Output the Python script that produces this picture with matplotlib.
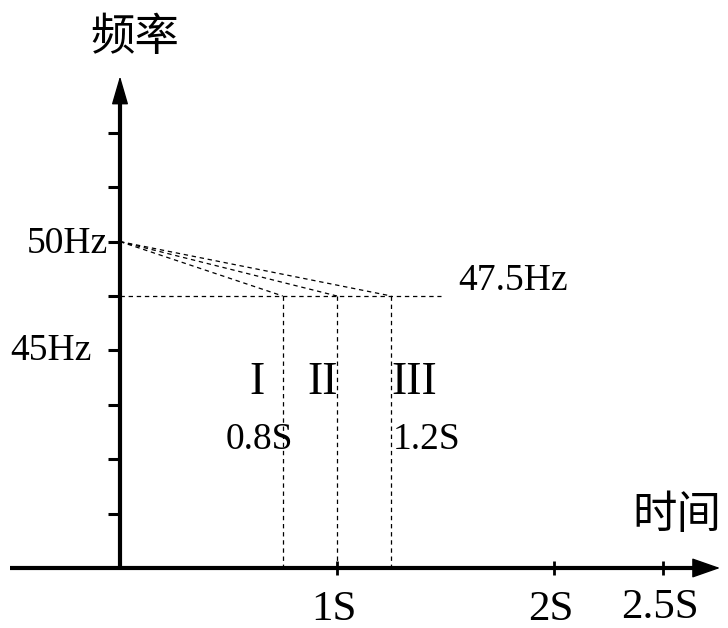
import matplotlib.pyplot as plt

plt.rcParams['font.family'] = ['Liberation Serif', 'Noto Sans CJK SC']

# chart values
f_origin = 35.0
f_nominal = 50.0
f_trip = 47.5
f_ticks = [37.5, 40, 42.5, 45, 47.5, 50, 52.5, 55]
f_ticklabels = ['50Hz', '45Hz']
f_ticklabel_vals = [50, 45]
t_ticks = [1, 2, 2.5]
t_ticklabels = ['1S', '2S', '2.5S']
stage_times = [0.75, 1.0, 1.25]
stage_names = ['I', 'II', 'III']
stage_time_labels = ['0.8S', '', '1.2S']

# pixel scale of the picture: 217 px per second, 21.76 px per Hz
PX_T = 217.0
PX_F = 21.76

fig = plt.figure(figsize=(7.28, 6.28), dpi=100)
ax = fig.add_axes([0, 0, 1, 1])
ax.set_xlim(-120 / PX_T, 608 / PX_T)
ax.set_ylim(f_origin - 60 / PX_F, f_origin + 568 / PX_F)
ax.axis('off')

dx = lambda px: px / PX_T
dy = lambda px: px / PX_F

# axes
x_end = 2.765
y_end = 57.6
ax.plot([dx(-110), x_end - dx(20)], [f_origin, f_origin], color='k', lw=3, solid_capstyle='butt')
ax.plot([0, 0], [f_origin, y_end - dy(20)], color='k', lw=3, solid_capstyle='butt')
ax.annotate('', xy=(x_end, f_origin), xytext=(x_end - dx(26), f_origin),
            arrowprops=dict(arrowstyle='-|>,head_length=1.2,head_width=0.42', mutation_scale=15,
                            color='k', lw=1, shrinkA=0, shrinkB=0))
ax.annotate('', xy=(0, y_end), xytext=(0, y_end - dy(26)),
            arrowprops=dict(arrowstyle='-|>,head_length=1.2,head_width=0.35', mutation_scale=15,
                            color='k', lw=1, shrinkA=0, shrinkB=0))

# ticks
for f in f_ticks:
    ax.plot([-dx(12), 0], [f, f], color='k', lw=2.2, solid_capstyle='butt')
for t in t_ticks:
    ax.plot([t, t], [f_origin - dy(7), f_origin + dy(7)], color='k', lw=2, solid_capstyle='butt')

# frequency drop lines
dash = (0, (3.5, 3))
for t in stage_times:
    ax.plot([0, t], [f_nominal, f_trip], color='k', lw=0.9, linestyle=dash)
    ax.plot([t, t], [f_trip, f_origin], color='k', lw=0.9, linestyle=dash)
ax.plot([0, 1.48], [f_trip, f_trip], color='k', lw=0.9, linestyle=dash)

# labels
ax.text(-dx(12), f_ticklabel_vals[0] - dy(11), f_ticklabels[0], ha='right', va='baseline', fontsize=27)
ax.text(-dx(28), f_ticklabel_vals[1] - dy(10), f_ticklabels[1], ha='right', va='baseline', fontsize=27)
ax.text(1.558, f_trip + dy(6), '47.5Hz', ha='left', va='baseline', fontsize=27)

name_x = [(stage_times[0] - dx(26), 'center'), (stage_times[1] + dx(1), 'right'), (stage_times[2], 'left')]
for (x, ha), name in zip(name_x, stage_names):
    ax.text(x, f_trip - dy(98), name, ha=ha, va='baseline', fontsize=33)
ax.text(stage_times[0] - dx(23), f_trip - dy(153), stage_time_labels[0], ha='center', va='baseline', fontsize=27)
ax.text(stage_times[2] + dx(1), f_trip - dy(153), stage_time_labels[2], ha='left', va='baseline', fontsize=27)

for t, lab in zip(t_ticks, t_ticklabels):
    base = f_origin - dy(50) if lab == '2.5S' else f_origin - dy(52)
    ax.text(t - dx(3), base, lab, ha='center', va='baseline', fontsize=31)

ax.text(dx(15), f_origin + dy(531), '频率', ha='center', va='center', fontsize=32,
        family=['Noto Sans CJK SC'])
ax.text(dx(557), f_origin + dy(53), '时间', ha='center', va='center', fontsize=32,
        family=['Noto Sans CJK SC'])

fig.savefig('out.png', dpi=100)
